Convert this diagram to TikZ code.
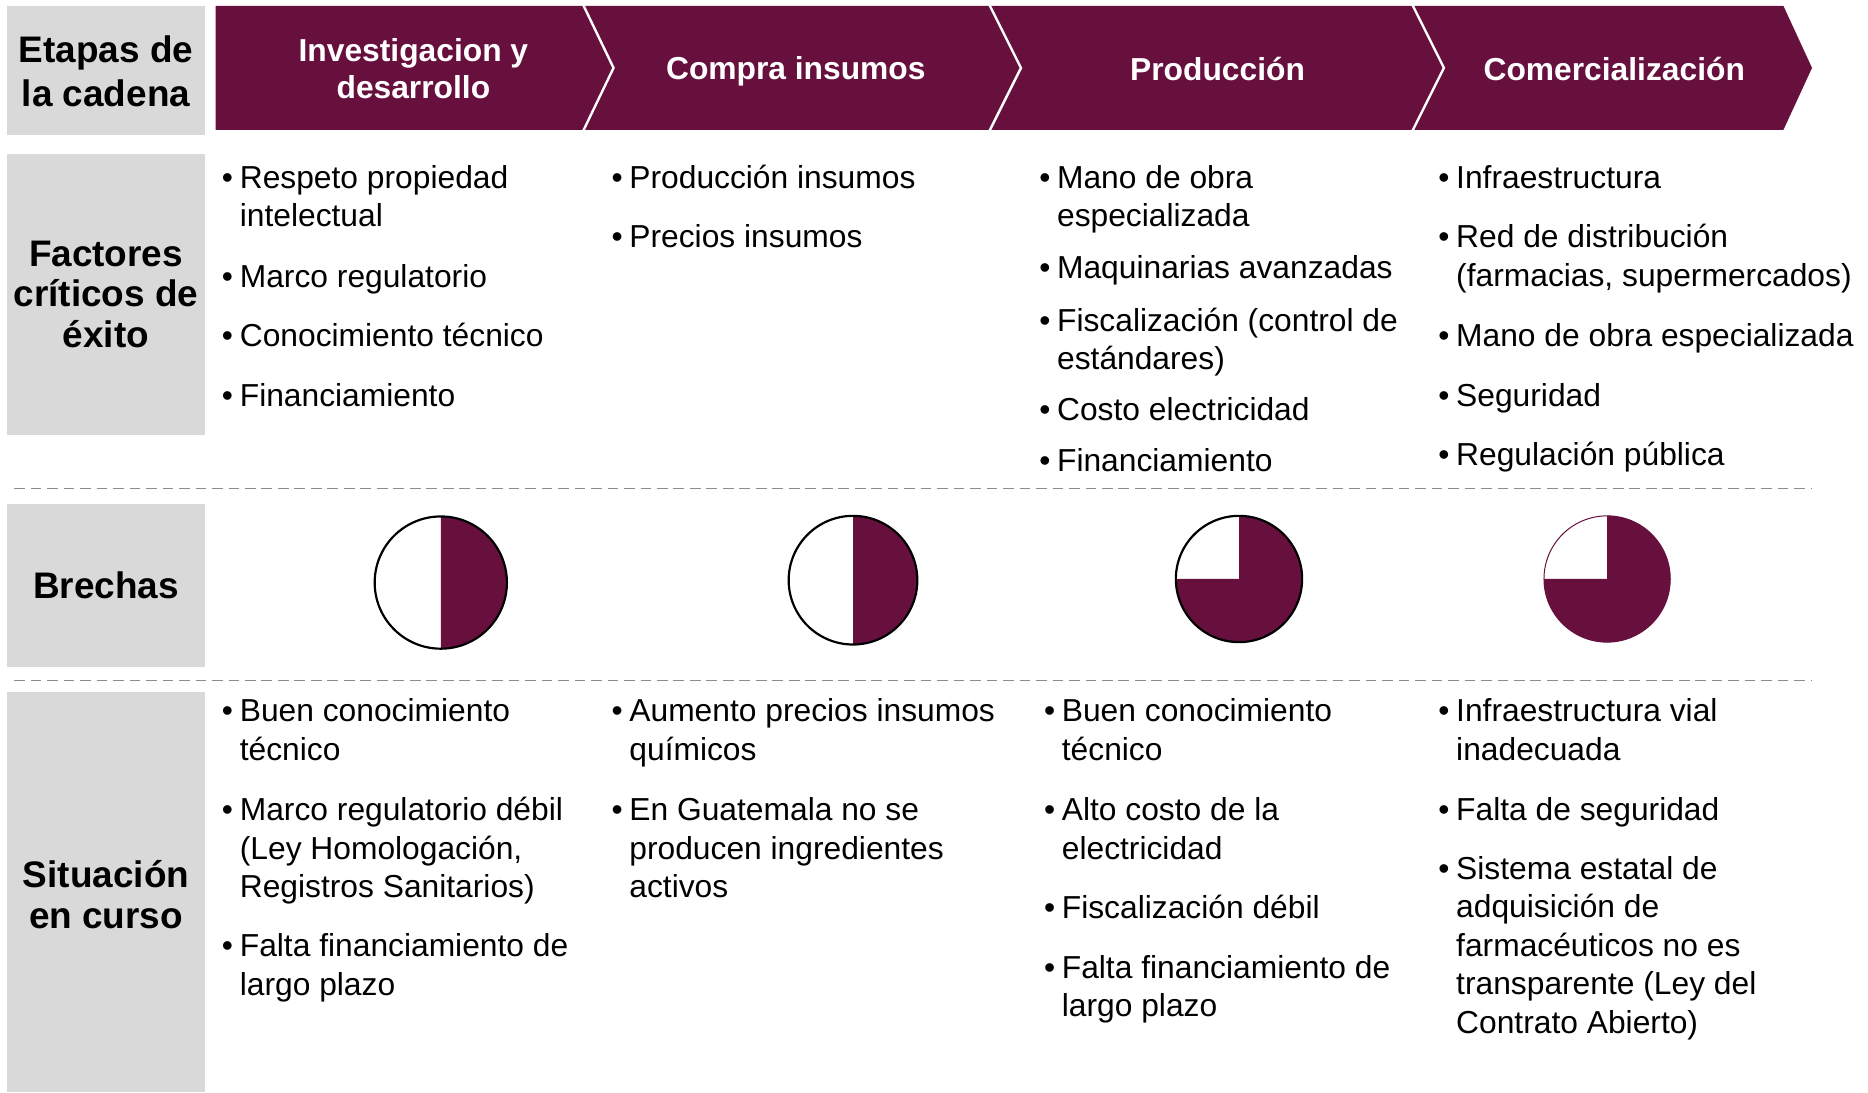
\documentclass[tikz,border=0pt]{standalone}
\usepackage{fontspec}
\setmainfont{Liberation Sans}
\definecolor{wine}{RGB}{103,16,62}
\definecolor{boxgrey}{RGB}{217,217,217}
\definecolor{dashgrey}{RGB}{140,140,140}
\newcommand\bitem[1]{\makebox[9pt][l]{•}\begin{tabular}[t]{@{}l@{}}#1\end{tabular}}
\tikzset{
  greybox/.style={fill=boxgrey},
  rowlabel/.style={align=center, inner sep=0pt, font=\fontsize{18.6}{20.5}\selectfont\bfseries},
  hdr/.style={align=center, inner sep=0pt, text=white, font=\fontsize{16}{18.6}\selectfont\bfseries},
  itm/.style={anchor=base west, inner sep=0pt, font=\fontsize{16}{19.4}\selectfont},
  sepline/.style={draw=dashgrey, line width=0.75pt, dash pattern=on 5.4pt off 2.9pt},
  chev/.style={draw=white, line width=1.2pt},
  pieout/.style={draw=black, line width=1.1pt},
}
\begin{document}
\begin{tikzpicture}[x=0.6pt,y=-0.6pt]
\useasboundingbox (0,0) rectangle (1568,917);
% grey label boxes
\fill[greybox] (6,5) rectangle (172,113);
\fill[greybox] (6,129) rectangle (172,365);
\fill[greybox] (6,423) rectangle (172,560);
\fill[greybox] (6,581) rectangle (172,917);
\node[rowlabel, font=\fontsize{18.6}{22.2}\selectfont\bfseries] (l1) at (89,60) {Etapas de\\la cadena};
\node[rowlabel] (l2) at (89,247) {Factores\\críticos de\\éxito};
\node[rowlabel] (l3) at (89,491) {Brechas};
\node[rowlabel] (l4) at (89,751) {Situación\\en curso};
% header chevrons
\fill[wine] (181,5) -- (1497,5) -- (1521,57) -- (1497,109) -- (181,109) -- cycle;
\draw[chev] (489,3) -- (515,57) -- (489,111);
\draw[chev] (830,3) -- (857,57) -- (830,111);
\draw[chev] (1185,3) -- (1212,57) -- (1185,111);
\node[hdr] (h1) at (347,58) {Investigacion y\\desarrollo};
\node[hdr] (h2) at (668,60) {Compra insumos};
\node[hdr] (h3) at (1022,58) {Producción};
\node[hdr] (h4) at (1355,58) {Comercialización};
% dashed separators
\draw[sepline] (12,410) -- (1520,410);
\draw[sepline] (12,571) -- (1520,571);
% factores
\node[itm] (f11) at (186,158) {\bitem{Respeto propiedad\\intelectual}};
\node[itm] (f12) at (186,241) {\bitem{Marco regulatorio}};
\node[itm] (f13) at (186,291) {\bitem{Conocimiento técnico}};
\node[itm] (f14) at (186,341) {\bitem{Financiamiento}};
\node[itm] (f21) at (513,158) {\bitem{Producción insumos}};
\node[itm] (f22) at (513,208) {\bitem{Precios insumos}};
\node[itm] (f31) at (872,158) {\bitem{Mano de obra\\especializada}};
\node[itm] (f32) at (872,234) {\bitem{Maquinarias avanzadas}};
\node[itm] (f33) at (872,278) {\bitem{Fiscalización (control de\\estándares)}};
\node[itm] (f34) at (872,353) {\bitem{Costo electricidad}};
\node[itm] (f35) at (872,396) {\bitem{Financiamiento}};
\node[itm] (f41) at (1207,158) {\bitem{Infraestructura}};
\node[itm] (f42) at (1207,208) {\bitem{Red de distribución\\(farmacias, supermercados)}};
\node[itm] (f43) at (1207,291) {\bitem{Mano de obra especializada}};
\node[itm] (f44) at (1207,341) {\bitem{Seguridad}};
\node[itm] (f45) at (1207,391) {\bitem{Regulación pública}};
% brechas pies
\fill[white] (370,489) circle[radius=55.5];
\fill[wine] (370,489) -- (370,433.5) arc[start angle=-90, end angle=90, radius=55.5] -- cycle;
\draw[pieout] (370,489) circle[radius=55.5];
\fill[white] (716,487) circle[radius=54];
\fill[wine] (716,487) -- (716,433) arc[start angle=-90, end angle=90, radius=54] -- cycle;
\draw[pieout] (716,487) circle[radius=54];
\fill[white] (1040,486) circle[radius=53];
\fill[wine] (1040,486) -- (1040,433) arc[start angle=-90, end angle=180, radius=53] -- cycle;
\draw[pieout] (1040,486) circle[radius=53];
\fill[white] (1349,486) circle[radius=53];
\fill[wine] (1349,486) -- (1349,433) arc[start angle=-90, end angle=180, radius=53] -- cycle;
\draw[wine, line width=0.5pt] (1349,486) circle[radius=53];
% situacion
\node[itm] (s11) at (186,606) {\bitem{Buen conocimiento\\técnico}};
\node[itm] (s12) at (186,689) {\bitem{Marco regulatorio débil\\(Ley Homologación,\\Registros Sanitarios)}};
\node[itm] (s13) at (186,803) {\bitem{Falta financiamiento de\\largo plazo}};
\node[itm] (s21) at (513,606) {\bitem{Aumento precios insumos\\químicos}};
\node[itm] (s22) at (513,689) {\bitem{En Guatemala no se\\producen ingredientes\\activos}};
\node[itm] (s31) at (876,606) {\bitem{Buen conocimiento\\técnico}};
\node[itm] (s32) at (876,689) {\bitem{Alto costo de la\\electricidad}};
\node[itm] (s33) at (876,771) {\bitem{Fiscalización débil}};
\node[itm] (s34) at (876,821) {\bitem{Falta financiamiento de\\largo plazo}};
\node[itm] (s41) at (1207,606) {\bitem{Infraestructura vial\\inadecuada}};
\node[itm] (s42) at (1207,689) {\bitem{Falta de seguridad}};
\node[itm] (s43) at (1207,738) {\bitem{Sistema estatal de\\adquisición de\\farmacéuticos no es\\transparente (Ley del\\Contrato Abierto)}};
\end{tikzpicture}
\end{document}
